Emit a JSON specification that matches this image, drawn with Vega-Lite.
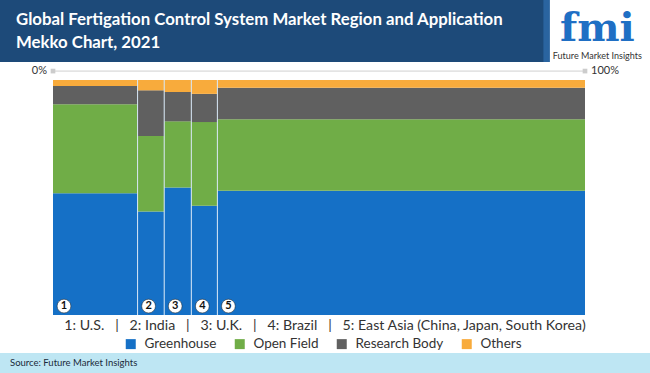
{
  "$schema": "https://vega.github.io/schema/vega-lite/v6.json",
  "padding": 0,
  "background": "white",
  "config": {"view": {"stroke": null}, "font": "Lato"},
  "datasets": {
    "segments": [
      {"id": 1, "region": "U.S.", "share": 15.9, "category": "Greenhouse", "rank": 1, "value": 51.8},
      {"id": 1, "region": "U.S.", "share": 15.9, "category": "Open Field", "rank": 2, "value": 37.9},
      {"id": 1, "region": "U.S.", "share": 15.9, "category": "Research Body", "rank": 3, "value": 7.7},
      {"id": 1, "region": "U.S.", "share": 15.9, "category": "Others", "rank": 4, "value": 2.6},
      {"id": 2, "region": "India", "share": 5.0, "category": "Greenhouse", "rank": 1, "value": 44.0},
      {"id": 2, "region": "India", "share": 5.0, "category": "Open Field", "rank": 2, "value": 32.2},
      {"id": 2, "region": "India", "share": 5.0, "category": "Research Body", "rank": 3, "value": 19.4},
      {"id": 2, "region": "India", "share": 5.0, "category": "Others", "rank": 4, "value": 4.4},
      {"id": 3, "region": "U.K.", "share": 5.1, "category": "Greenhouse", "rank": 1, "value": 54.3},
      {"id": 3, "region": "U.K.", "share": 5.1, "category": "Open Field", "rank": 2, "value": 28.1},
      {"id": 3, "region": "U.K.", "share": 5.1, "category": "Research Body", "rank": 3, "value": 12.5},
      {"id": 3, "region": "U.K.", "share": 5.1, "category": "Others", "rank": 4, "value": 5.1},
      {"id": 4, "region": "Brazil", "share": 4.9, "category": "Greenhouse", "rank": 1, "value": 46.5},
      {"id": 4, "region": "Brazil", "share": 4.9, "category": "Open Field", "rank": 2, "value": 35.6},
      {"id": 4, "region": "Brazil", "share": 4.9, "category": "Research Body", "rank": 3, "value": 12.0},
      {"id": 4, "region": "Brazil", "share": 4.9, "category": "Others", "rank": 4, "value": 5.9},
      {"id": 5, "region": "East Asia", "share": 69.1, "category": "Greenhouse", "rank": 1, "value": 52.9},
      {"id": 5, "region": "East Asia", "share": 69.1, "category": "Open Field", "rank": 2, "value": 30.4},
      {"id": 5, "region": "East Asia", "share": 69.1, "category": "Research Body", "rank": 3, "value": 13.4},
      {"id": 5, "region": "East Asia", "share": 69.1, "category": "Others", "rank": 4, "value": 3.3}
    ],
    "scaleEnds": [
      {"pct": 0, "label": "0%"},
      {"pct": 100, "label": "100%"}
    ]
  },
  "bounds": "flush",
  "spacing": 0,
  "vconcat": [
    {
      "width": 650,
      "height": 62,
      "data": {"values": [{"t": "Global Fertigation Control System Market Region and Application\nMekko Chart, 2021", "brand": "fmi", "sub": "Future Market Insights"}]},
      "layer": [
        {
          "mark": {"type": "rect", "color": "#1d4a79"},
          "encoding": {
            "x": {"datum": 0, "scale": {"domain": [0, 1], "nice": false}, "axis": null},
            "x2": {"datum": 0.843}
          }
        },
        {
          "mark": {"type": "rect", "color": "#2a64a0"},
          "encoding": {
            "x": {"datum": 0.836, "axis": null},
            "x2": {"datum": 0.846}
          }
        },
        {
          "mark": {"type": "text", "align": "left", "baseline": "middle", "dx": 16, "dy": -11, "color": "white", "font": "Lato", "fontWeight": "bold", "fontSize": 16.8, "lineHeight": 23, "lineBreak": "\n"},
          "encoding": {
            "text": {"field": "t"},
            "x": {"datum": 0, "axis": null}
          }
        },
        {
          "mark": {"type": "text", "font": "DejaVu Serif", "fontWeight": "bold", "fontSize": 40, "color": "#1f6fc4", "baseline": "alphabetic", "dy": 10},
          "encoding": {"text": {"field": "brand"}, "x": {"datum": 0.919, "axis": null}}
        },
        {
          "mark": {"type": "text", "font": "Lato", "fontSize": 9, "color": "#333333", "baseline": "middle", "dy": 25},
          "encoding": {"text": {"field": "sub"}, "x": {"datum": 0.919, "axis": null}}
        }
      ]
    },
    {
      "width": 650,
      "height": 291,
      "layer": [
        {
          "data": {"name": "segments"},
          "transform": [
            {"stack": "share", "groupby": ["category"], "sort": [{"field": "id", "order": "ascending"}], "as": ["x0", "x1"]},
            {"stack": "value", "groupby": ["region"], "sort": [{"field": "rank", "order": "ascending"}], "as": ["y0", "y1"]}
          ],
          "layer": [
            {
              "mark": {"type": "rect"},
              "encoding": {
                "x": {
                  "field": "x0", "type": "quantitative",
                  "scale": {"domain": [0, 100], "range": [53, 585], "nice": false, "zero": false},
                  "axis": null
                },
                "x2": {"field": "x1"},
                "y": {"field": "y0", "type": "quantitative", "scale": {"domain": [0, 100], "range": [253, 18], "nice": false, "zero": false}, "axis": null},
                "y2": {"field": "y1"},
                "color": {
                  "field": "category", "type": "nominal",
                  "scale": {"domain": ["Greenhouse", "Open Field", "Research Body", "Others"], "range": ["#1570c6", "#70ad47", "#606060", "#f8ab3c"]},
                  "legend": {
                    "orient": "none", "legendX": 124, "legendY": 337, "direction": "horizontal", "title": null,
                    "symbolType": "square", "symbolSize": 100, "symbolStrokeWidth": 0,
                    "labelFont": "Lato", "labelFontSize": 13.5, "labelColor": "#333333", "labelOffset": 7,
                    "columnPadding": 16, "padding": 0
                  }
                }
              }
            },
            {
              "transform": [{"filter": "datum.category == 'Greenhouse' && datum.id > 1"}],
              "mark": {"type": "rule", "color": "#d6e6f5", "strokeWidth": 1},
              "encoding": {
                "x": {"field": "x0", "type": "quantitative", "axis": null},
                "y": {"datum": 0, "axis": null},
                "y2": {"datum": 100}
              }
            },
            {
              "transform": [{"filter": "datum.category == 'Greenhouse'"}],
              "mark": {"type": "point", "shape": "circle", "filled": true, "size": 190, "color": "white", "stroke": "#222222", "strokeWidth": 0.5, "opacity": 1},
              "encoding": {
                "x": {"field": "x0", "type": "quantitative", "axis": null},
                "xOffset": {"value": 11},
                "y": {"datum": 3.8, "axis": null}
              }
            },
            {
              "transform": [{"filter": "datum.category == 'Greenhouse'"}],
              "mark": {"type": "text", "font": "Lato", "fontWeight": "bold", "fontSize": 11, "color": "#111111", "baseline": "middle", "align": "center"},
              "encoding": {
                "x": {"field": "x0", "type": "quantitative", "axis": null},
                "xOffset": {"value": 11},
                "y": {"datum": 3.8, "axis": null},
                "text": {"field": "id"}
              }
            }
          ]
        },
        {
          "data": {"name": "scaleEnds"},
          "layer": [
            {
              "mark": {"type": "rule", "color": "#d0d0d0", "strokeWidth": 1},
              "encoding": {
                "x": {"aggregate": "min", "field": "pct", "type": "quantitative", "axis": null},
                "x2": {"aggregate": "max", "field": "pct"},
                "y": {"datum": 103.8, "axis": null}
              }
            },
            {
              "mark": {"type": "point", "shape": "square", "filled": true, "size": 22, "color": "#cccccc", "opacity": 1},
              "encoding": {
                "x": {"field": "pct", "type": "quantitative", "axis": null},
                "y": {"datum": 103.8, "axis": null}
              }
            },
            {
              "transform": [{"filter": "datum.pct == 0"}],
              "mark": {"type": "text", "align": "right", "baseline": "middle", "dx": -6, "font": "Lato", "fontSize": 11, "color": "#333333"},
              "encoding": {
                "x": {"field": "pct", "type": "quantitative", "axis": null},
                "y": {"datum": 103.8, "axis": null},
                "text": {"field": "label"}
              }
            },
            {
              "transform": [{"filter": "datum.pct == 100"}],
              "mark": {"type": "text", "align": "left", "baseline": "middle", "dx": 6, "font": "Lato", "fontSize": 11, "color": "#333333"},
              "encoding": {
                "x": {"field": "pct", "type": "quantitative", "axis": null},
                "y": {"datum": 103.8, "axis": null},
                "text": {"field": "label"}
              }
            }
          ]
        },
        {
          "data": {"values": [{"key": "1: U.S.\u00a0\u00a0\u00a0|\u00a0\u00a0\u00a02: India\u00a0\u00a0\u00a0|\u00a0\u00a0\u00a03: U.K.\u00a0\u00a0\u00a0|\u00a0\u00a0\u00a04: Brazil\u00a0\u00a0\u00a0|\u00a0\u00a0\u00a05: East Asia (China, Japan, South Korea)"}]},
          "mark": {"type": "text", "align": "center", "baseline": "middle", "dx": 6, "font": "Lato", "fontSize": 14.2, "color": "#333333"},
          "encoding": {
            "x": {"datum": 50, "axis": null},
            "y": {"datum": -4.7, "axis": null},
            "text": {"field": "key"}
          }
        }
      ]
    },
    {
      "width": 650,
      "height": 20,
      "view": {"fill": "#bee6f3", "stroke": null},
      "data": {"values": [{"src": "Source: Future Market Insights"}]},
      "mark": {"type": "text", "align": "left", "baseline": "middle", "dx": 10, "font": "Lato", "fontSize": 9.5, "color": "#1b2a3a"},
      "encoding": {
        "text": {"field": "src"},
        "x": {"datum": 0, "scale": {"domain": [0, 1]}, "axis": null}
      }
    }
  ]
}
